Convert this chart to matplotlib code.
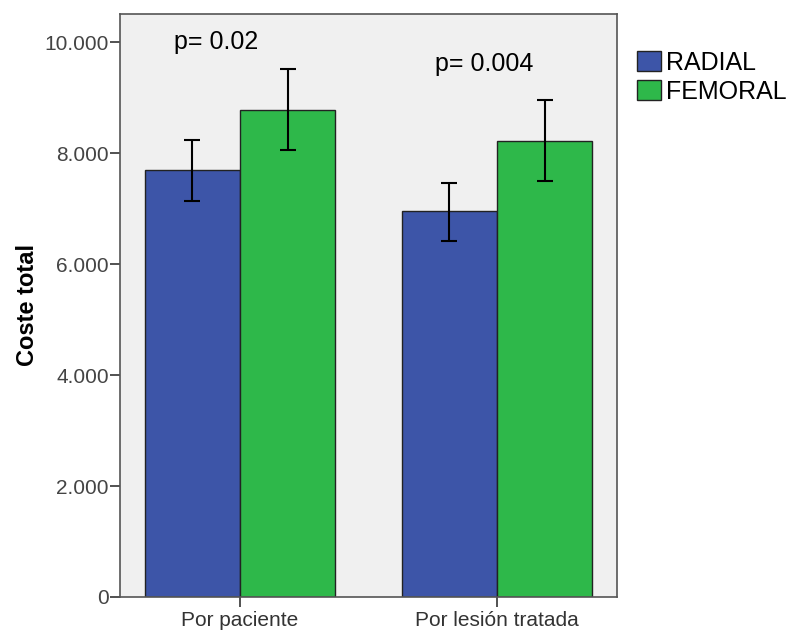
import matplotlib
matplotlib.use("Agg")
import matplotlib.pyplot as plt
import numpy as np
from matplotlib.patches import Patch

plt.rcParams['font.family'] = ['Liberation Sans', 'DejaVu Sans']

categories = ["Por paciente", "Por lesión tratada"]
series = ["RADIAL", "FEMORAL"]
radial_mean = [7694, 6949]
radial_lo = [7135, 6420]
radial_hi = [8234, 7465]
femoral_mean = [8775, 8222]
femoral_lo = [8054, 7501]
femoral_hi = [9508, 8955]
p_labels = ["p= 0.02", "p= 0.004"]
p_heights = [10000, 9600]
ytick_vals = [0, 2000, 4000, 6000, 8000, 10000]
ytick_labels = ["0", "2.000", "4.000", "6.000", "8.000", "10.000"]

c_rad = "#3d55a8"
c_fem = "#2eb84a"

fig = plt.figure(figsize=(7.95, 6.35), dpi=100)
ax = fig.add_axes([120/795, 1-597/635, 497/795, (597-14)/635])
ax.set_facecolor("#f0f0f0")

x = np.arange(len(categories))
w = 0.37
xr = x - w/2
xf = x + w/2
ax.bar(xr, radial_mean, width=w, color=c_rad, edgecolor="#222222", linewidth=1.0, zorder=2)
ax.bar(xf, femoral_mean, width=w, color=c_fem, edgecolor="#222222", linewidth=1.0, zorder=2)

rm = np.array(radial_mean); fm = np.array(femoral_mean)
ax.errorbar(xr, rm, yerr=[rm - np.array(radial_lo), np.array(radial_hi) - rm],
            fmt="none", ecolor="black", elinewidth=1.5, capsize=5.5, capthick=1.5, zorder=3)
ax.errorbar(xf, fm, yerr=[fm - np.array(femoral_lo), np.array(femoral_hi) - fm],
            fmt="none", ecolor="black", elinewidth=1.5, capsize=5.5, capthick=1.5, zorder=3)

ax.set_xlim(-0.467, 1.467)
ax.set_ylim(0, 10505)
ax.set_xticks(x)
ax.set_xticklabels(categories, fontsize=15, color="#333333")
ax.set_yticks(ytick_vals)
ax.set_yticklabels(ytick_labels, fontsize=15, color="#444444")
ax.tick_params(axis="both", direction="out", length=7, width=1.2, color="#333333")
ax.tick_params(axis="y", pad=1)
ax.tick_params(axis="x", pad=3)
for s in ax.spines.values():
    s.set_color("#555555")
    s.set_linewidth(1.2)

ax.set_ylabel("Coste total", fontsize=17, fontweight="bold", labelpad=4)

# p-value annotations
ax.text(x[0] - 0.093, p_heights[0], p_labels[0], fontsize=18, ha="center", va="center", color="black")
ax.text(x[1] - 0.05, p_heights[1], p_labels[1], fontsize=18, ha="center", va="center", color="black")

handles = [Patch(facecolor=c_rad, edgecolor="#222222"), Patch(facecolor=c_fem, edgecolor="#222222")]
fig.legend(handles, series, loc="upper left", bbox_to_anchor=(637/795, 1-51/635),
           frameon=False, fontsize=18, handlelength=0.95, handleheight=0.85,
           handletextpad=0.2, labelspacing=0.2, borderpad=0, borderaxespad=0)

fig.savefig("out.png", dpi=100)
